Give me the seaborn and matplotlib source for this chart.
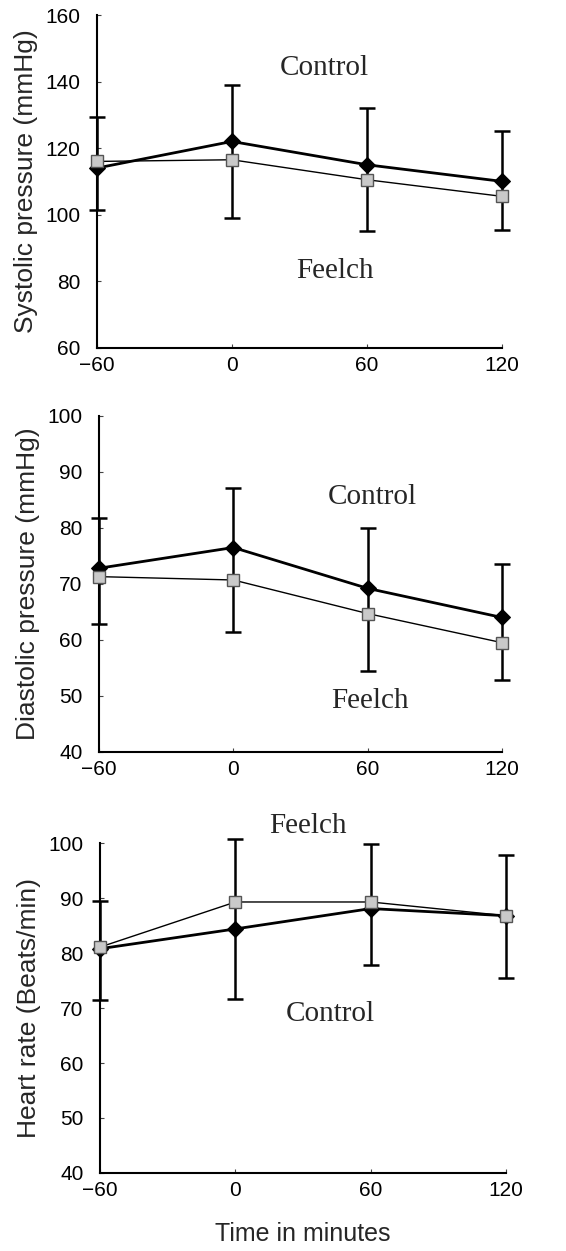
import matplotlib
matplotlib.use("Agg")
import matplotlib.pyplot as plt
import seaborn as sns
import pandas as pd
import numpy as np

sns.set_theme(style="white")
plt.rcParams['font.family'] = ['Liberation Sans', 'DejaVu Sans']

time = [-60, 0, 60, 120]

# Systolic
sys_control = [114, 122, 115, 110]
sys_feelch = [116, 116.5, 110.5, 105.5]
sys_err_top = [129.5, 139, 132, 125.2]
sys_err_bot = [101.3, 99, 95, 95.3]

# Diastolic
dia_control = [72.8, 76.5, 69.2, 64.0]
dia_feelch = [71.3, 70.7, 64.7, 59.5]
dia_err_top = [81.7, 87.1, 79.9, 73.5]
dia_err_bot = [62.8, 61.4, 54.4, 52.9]

# Heart rate
hr_control = [80.8, 84.4, 88.1, 86.8]
hr_feelch = [81.1, 89.3, 89.3, 86.8]
hr_err_top = [89.5, 100.8, 99.8, 97.8]
hr_err_bot = [71.4, 71.7, 77.9, 75.5]

ylabels = ["Systolic pressure (mmHg)", "Diastolic pressure (mmHg)", "Heart rate (Beats/min)"]
yticks = [[60, 80, 100, 120, 140, 160], [40, 50, 60, 70, 80, 90, 100], [40, 50, 60, 70, 80, 90, 100]]
ylims = [(60, 160), (40, 100), (40, 100)]
xticks = [-60, 0, 60, 120]

# annotation positions (data coords): (x, y) for Control, Feelch
ann_control = [(41, 144), (62, 85.6), (42, 69)]
ann_feelch = [(46, 83), (61, 49), (32, 103.2)]

panels = [
    (sys_control, sys_feelch, sys_err_top, sys_err_bot),
    (dia_control, dia_feelch, dia_err_top, dia_err_bot),
    (hr_control, hr_feelch, hr_err_top, hr_err_bot),
]

rects = [
    [0.171, 0.722, 0.716, 0.266],
    [0.175, 0.399, 0.712, 0.2685],
    [0.177, 0.0624, 0.717, 0.2636],
]

fig = plt.figure(figsize=(5.66, 12.51), dpi=100)

for i, (ctrl, feel, etop, ebot) in enumerate(panels):
    ax = fig.add_axes(rects[i])
    df = pd.DataFrame({"time": time * 2,
                       "value": list(ctrl) + list(feel),
                       "group": ["Control"] * 4 + ["Feelch"] * 4})
    # error bars
    ax.vlines(time, ebot, etop, color="black", lw=1.8, zorder=2, clip_on=False)
    ax.scatter(time, etop, marker="_", s=140, color="black", linewidths=1.8, zorder=2, clip_on=False)
    ax.scatter(time, ebot, marker="_", s=140, color="black", linewidths=1.8, zorder=2, clip_on=False)
    # Feelch line (thin, gray squares)
    sns.lineplot(data=df[df.group == "Feelch"], x="time", y="value", ax=ax,
                 color="black", lw=1.0, marker="s", markersize=8,
                 markerfacecolor="#c9c9c9", markeredgecolor="#555555", markeredgewidth=1.0,
                 zorder=4, clip_on=False, legend=False)
    # Control line (thick, black diamonds)
    sns.lineplot(data=df[df.group == "Control"], x="time", y="value", ax=ax,
                 color="black", lw=2.0, marker="D", markersize=8,
                 markerfacecolor="black", markeredgecolor="black",
                 zorder=3, clip_on=False, legend=False)
    ax.set_xlim(-60, 120)
    ax.set_ylim(*ylims[i])
    ax.set_xticks(xticks)
    ax.set_xticklabels(["\u221260", "0", "60", "120"])
    ax.set_yticks(yticks[i])
    ax.tick_params(axis="both", labelsize=15, direction="in", length=3, width=0.8,
                   colors="#444444", labelcolor="black")
    ax.tick_params(axis="y", pad=12)
    ax.tick_params(axis="x", pad=6)
    ax.tick_params(axis="both", which="both", left=True, bottom=True)
    sns.despine(ax=ax)
    for s in ["left", "bottom"]:
        ax.spines[s].set_color("black")
        ax.spines[s].set_linewidth(1.5)
    ax.set_ylabel(ylabels[i], fontsize=19, labelpad=5)
    ax.set_xlabel("")
    cx, cy = ann_control[i]
    fx, fy = ann_feelch[i]
    ax.text(cx, cy, "Control", fontsize=21, family="Liberation Serif",
            ha="center", va="center", clip_on=False)
    ax.text(fx, fy, "Feelch", fontsize=21, family="Liberation Serif",
            ha="center", va="center", clip_on=False)
    if i == 2:
        ax.set_xlabel("Time in minutes", fontsize=18, labelpad=16)

fig.savefig("out.png", dpi=100, facecolor="white")
